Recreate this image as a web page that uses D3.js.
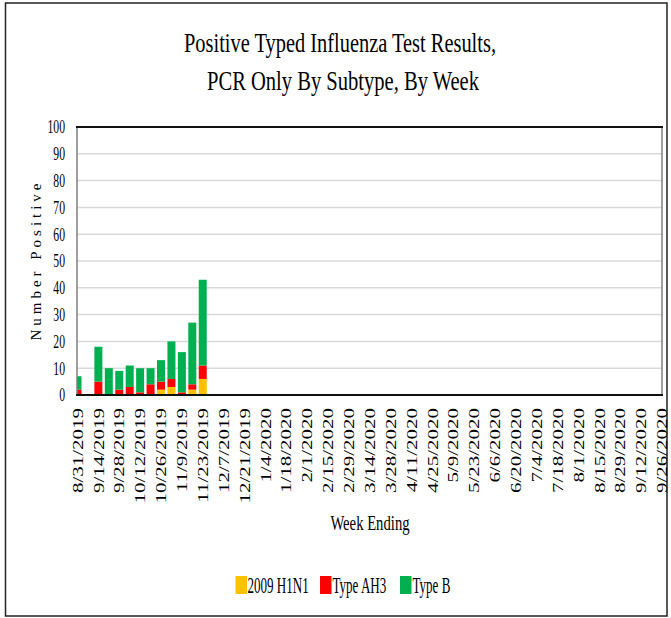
<!DOCTYPE html>
<html><head><meta charset="utf-8">
<script src="https://cdn.jsdelivr.net/npm/d3@7"></script>
<style>
html,body{margin:0;padding:0;background:#fff;}
svg{display:block;}
text{font-family:"Liberation Serif","DejaVu Serif","Times New Roman",Times,serif;fill:#000;}
</style></head>
<body>
<svg id="chart" width="671" height="618"></svg>
<script>
// ---------- DATA ----------
const weeks = ["8/31/2019","9/7/2019","9/14/2019","9/21/2019","9/28/2019","10/5/2019","10/12/2019","10/19/2019","10/26/2019","11/2/2019","11/9/2019","11/16/2019","11/23/2019","11/30/2019","12/7/2019","12/14/2019","12/21/2019","12/28/2019","1/4/2020","1/11/2020","1/18/2020","1/25/2020","2/1/2020","2/8/2020","2/15/2020","2/22/2020","2/29/2020","3/7/2020","3/14/2020","3/21/2020","3/28/2020","4/4/2020","4/11/2020","4/18/2020","4/25/2020","5/2/2020","5/9/2020","5/16/2020","5/23/2020","5/30/2020","6/6/2020","6/13/2020","6/20/2020","6/27/2020","7/4/2020","7/11/2020","7/18/2020","7/25/2020","8/1/2020","8/8/2020","8/15/2020","8/22/2020","8/29/2020","9/5/2020","9/12/2020","9/19/2020","9/26/2020"];
const h1n1  = [0,0,0,0,0,0,0,0,2,3,0,2,6];
const ah3   = [2,0,5,0,2,3,1,4,3,3,1,2,5];
const typeB = [5,0,13,10,7,8,9,6,8,14,15,23,32];
const seriesNames = ["2009 H1N1","Type AH3","Type B"];
const seriesColors = ["#FFC000","#FF0000","#00B050"];
const yTicks = [0,10,20,30,40,50,60,70,80,90,100];
const xTickLabels = weeks.filter((d,i)=>i%2===0);
const titleLines = ["Positive Typed Influenza Test Results,","PCR Only By Subtype, By Week"];
const xTitle = "Week Ending";
const yTitle = "Number Positive";

// ---------- LAYOUT ----------
const svg = d3.select("#chart");
const plot = {left:77, right:662, top:127, bottom:395};

const x = d3.scalePoint().domain(weeks).range([plot.left+0.5, plot.right]);
const y = d3.scaleLinear().domain([0,100]).range([plot.bottom, plot.top]);
const barW = 8;

// outer border
svg.append("rect").attr("x",5.5).attr("y",3).attr("width",661.5).attr("height",613)
  .attr("fill","#fff").attr("stroke","#222").attr("stroke-width",1.5);

// title
const titleLayout = [{cx:340,by:52,len:312},{cx:343,by:90,len:272}];
titleLines.forEach((t,i)=>{
  svg.append("text").attr("x",titleLayout[i].cx).attr("y",titleLayout[i].by)
    .attr("text-anchor","middle").attr("font-size",28)
    .attr("textLength",titleLayout[i].len).attr("lengthAdjust","spacingAndGlyphs")
    .text(t);
});

// gridlines
svg.append("g").selectAll("line").data(yTicks.filter(d=>d>0&&d<100)).join("line")
  .attr("x1",plot.left).attr("x2",plot.right)
  .attr("y1",d=>y(d)).attr("y2",d=>y(d))
  .attr("stroke","#d9d9d9").attr("stroke-width",1.5);

// stacked bars
const rows = weeks.map((w,i)=>({week:w, h1n1:h1n1[i]||0, ah3:ah3[i]||0, typeB:typeB[i]||0}));
const stack = d3.stack().keys(["h1n1","ah3","typeB"])(rows);
svg.append("clipPath").attr("id","clip").append("rect")
  .attr("x",plot.left).attr("y",plot.top).attr("width",plot.right-plot.left).attr("height",plot.bottom-plot.top);
const bars = svg.append("g").attr("clip-path","url(#clip)");
stack.forEach((layer,k)=>{
  bars.append("g").attr("fill",seriesColors[k]).selectAll("rect")
    .data(layer.filter(d=>d[1]-d[0]>0)).join("rect")
    .attr("x",d=>x(d.data.week)-barW/2).attr("width",barW)
    .attr("y",d=>y(d[1])).attr("height",d=>y(d[0])-y(d[1]));
});

// frame
svg.append("line").attr("x1",plot.left).attr("x2",plot.left).attr("y1",plot.top).attr("y2",plot.bottom)
  .attr("stroke","#7f7f7f").attr("stroke-width",1.5);
svg.append("line").attr("x1",plot.right).attr("x2",plot.right).attr("y1",plot.top).attr("y2",plot.bottom)
  .attr("stroke","#7f7f7f").attr("stroke-width",1.5);
svg.append("line").attr("x1",plot.left-1).attr("x2",plot.right+1).attr("y1",plot.top).attr("y2",plot.top)
  .attr("stroke","#111").attr("stroke-width",2);
svg.append("line").attr("x1",plot.left-1).attr("x2",plot.right+1).attr("y1",plot.bottom).attr("y2",plot.bottom)
  .attr("stroke","#111").attr("stroke-width",2);

// y tick labels
svg.append("g").selectAll("text").data(yTicks).join("text")
  .attr("transform",d=>`translate(65,${y(d)}) scale(0.65,1)`)
  .attr("text-anchor","end").attr("dy","0.35em").attr("font-size",18)
  .text(d=>d);

// x tick labels
svg.append("g").selectAll("text").data(xTickLabels).join("text")
  .attr("transform",d=>`translate(${x(d)},408) scale(0.7,1) rotate(-90)`)
  .attr("text-anchor","end").attr("dy","0.35em").attr("font-size",21)
  .text(d=>d);

// axis titles
svg.append("text").attr("transform","translate(370,530) scale(0.7,1)").attr("text-anchor","middle")
  .attr("font-size",21).text(xTitle);
svg.append("text").attr("transform","translate(41,262) rotate(-90)")
  .attr("text-anchor","middle").attr("font-size",15)
  .attr("textLength",157).attr("lengthAdjust","spacing").text(yTitle);

// legend
const legendLayout = [{sx:235.5,tx:247.5},{sx:320,tx:332.5},{sx:400,tx:412.5}];
seriesNames.forEach((n,i)=>{
  svg.append("rect").attr("x",legendLayout[i].sx).attr("y",576).attr("width",11.5).attr("height",18)
    .attr("fill",seriesColors[i]);
  svg.append("text").attr("transform",`translate(${legendLayout[i].tx},593) scale(0.58,1)`)
    .attr("font-size",22.5).text(n);
});
</script>
</body></html>
